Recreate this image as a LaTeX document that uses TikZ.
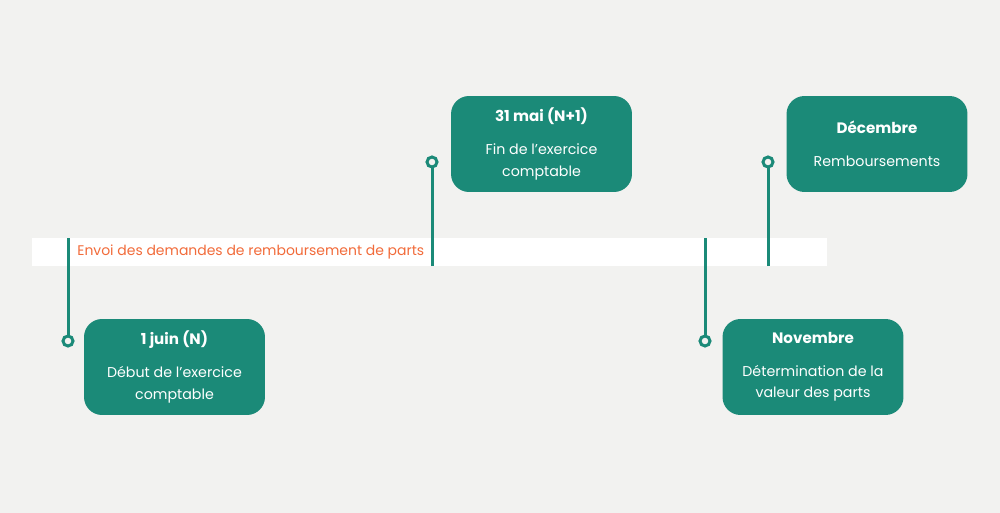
\documentclass[tikz,border=0pt]{standalone}
\usepackage{fontspec}
\setmainfont{Poppins}
\usetikzlibrary{positioning}
\definecolor{timelineTeal}{HTML}{1B8A78}
\definecolor{timelineOrange}{HTML}{F26B3A}
\definecolor{timelineBack}{HTML}{F2F2F0}

\tikzset{
  stepbox/.style={fill=timelineTeal, rounded corners=0.36cm, minimum width=3.62cm, minimum height=1.92cm,
    inner sep=0pt, align=center, text=white, font=\fontsize{8.1}{12.5}\selectfont},
  datedot/.style={circle, draw=timelineTeal, line width=0.06cm, fill=timelineBack, minimum size=0.2cm, inner sep=0pt},
  stem/.style={draw=timelineTeal, line width=0.06cm}
}

\begin{document}
\begin{tikzpicture}[x=0.02cm, y=-0.02cm]
  % fond et bande
  \fill[timelineBack] (0,0) rectangle (1000,513);
  \fill[white] (32,238) rectangle (827,266);
  \node[anchor=west, inner sep=0pt, text=timelineOrange, font=\fontsize{7.95}{10}\selectfont] (envoi) at (77,252.5)
    {Envoi des demandes de remboursement de parts};

  % points de la frise
  \coordinate (topA) at (68,238);
  \coordinate (botB) at (432,266);
  \coordinate (topC) at (705,238);
  \coordinate (botD) at (768,266);

  \draw[stem] (topA) -- (68,341);
  \draw[stem] (botB) -- (432,162);
  \draw[stem] (topC) -- (705,341);
  \draw[stem] (botD) -- (768,162);

  \node[datedot] (dotA) at (68,341) {};
  \node[datedot] (dotB) at (432,162) {};
  \node[datedot] (dotC) at (705,341) {};
  \node[datedot] (dotD) at (768,162) {};

  % etapes
  \node[stepbox] (debut) at (174.5,367) {{\fontsize{8.6}{12.5}\selectfont\textbf{1 juin (N)}}\\[6pt]Début de l’exercice\\comptable};
  \node[stepbox] (fin) at (541.5,144) {{\fontsize{8.6}{12.5}\selectfont\textbf{31 mai (N+1)}}\\[6pt]Fin de l’exercice\\comptable};
  \node[stepbox] (novembre) at (813,367) {{\fontsize{8.6}{12.5}\selectfont\textbf{Novembre}}\\[6pt]Détermination de la\\valeur des parts};
  \node[stepbox] (decembre) at (877,144) {{\fontsize{8.6}{12.5}\selectfont\textbf{Décembre}}\\[6pt]Remboursements};
\end{tikzpicture}
\end{document}
